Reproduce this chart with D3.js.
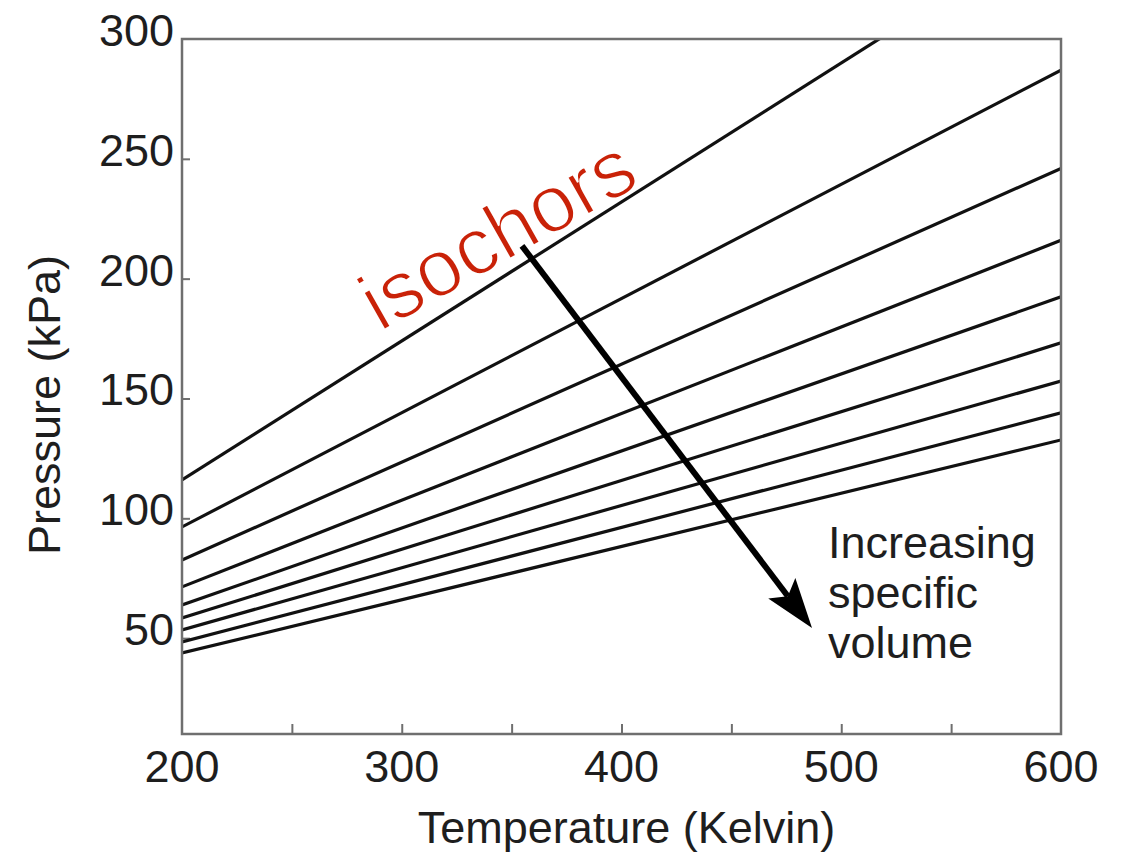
<!DOCTYPE html>
<html>
<head>
<meta charset="utf-8">
<script src="https://cdn.jsdelivr.net/npm/d3@7"></script>
<style>
  body { margin: 0; background: #fff; }
  svg text { font-family: "Liberation Sans", Arial, sans-serif; }
</style>
</head>
<body>
<svg id="chart" width="1132" height="854"></svg>
<script>
// isochor end points, pressure (kPa) at 200 K and at 600 K
var temps = [200, 600];
var p200 = [116, 96.4, 82.6, 71.4, 63.8, 58.4, 53.4, 48.4, 43.8];
var p600 = [348, 287, 246, 216, 192.4, 173.2, 157.3, 144, 132.7];

var xTicks = [200, 300, 400, 500, 600];
var xMinor = [250, 300, 350, 400, 450, 500, 550];
var yTicks = [50, 100, 150, 200, 250, 300];

// annotation anchors, in data units
var arrowFrom = [354.7, 213.7];
var arrowTo = [486.7, 54.2];
var isoLabel = [290, 177.5];
var noteLabel = [494, 83.5];
var noteLines = ['Increasing', 'specific', 'volume'];

var svg = d3.select('#chart');

var x = d3.scaleLinear().domain([200, 600]).range([182, 1061]);
var y = d3.scaleLinear().domain([10, 300]).range([734, 39]);

var frameColor = '#6f6f6f';

svg.append('defs').append('clipPath')
    .attr('id', 'plot-clip')
  .append('rect')
    .attr('x', x(200)).attr('y', y(300))
    .attr('width', x(600) - x(200))
    .attr('height', y(10) - y(300));

// inward ticks
svg.append('g')
    .attr('transform', 'translate(0,' + y(10) + ')')
    .call(d3.axisTop(x).tickValues(xMinor).tickSize(10).tickFormat(''))
    .call(function(g) {
        g.select('.domain').remove();
        g.selectAll('line').attr('stroke', frameColor).attr('stroke-width', 2);
    });

svg.append('g')
    .attr('transform', 'translate(' + x(200) + ',0)')
    .call(d3.axisRight(y).tickValues(yTicks.slice(0, 5)).tickSize(8).tickFormat(''))
    .call(function(g) {
        g.select('.domain').remove();
        g.selectAll('line').attr('stroke', frameColor).attr('stroke-width', 2);
    });

// tick labels
svg.append('g').selectAll('text')
    .data(xTicks)
  .enter().append('text')
    .attr('x', function(d) { return x(d); })
    .attr('y', y(10) + 48)
    .attr('text-anchor', 'middle')
    .attr('font-size', '45px')
    .attr('fill', '#1e1e1e')
    .text(function(d) { return d; });

svg.append('g').selectAll('text')
    .data(yTicks)
  .enter().append('text')
    .attr('x', x(200) - 8)
    .attr('y', function(d) { return y(d) + 7; })
    .attr('text-anchor', 'end')
    .attr('font-size', '45px')
    .attr('fill', '#1e1e1e')
    .text(function(d) { return d; });

// axis titles
svg.append('text')
    .attr('x', (x(200) + x(600)) / 2 + 5)
    .attr('y', 843)
    .attr('text-anchor', 'middle')
    .attr('font-size', '45px')
    .attr('fill', '#1e1e1e')
    .text('Temperature (Kelvin)');

svg.append('text')
    .attr('transform', 'translate(60,405) rotate(-90)')
    .attr('text-anchor', 'middle')
    .attr('font-size', '45px')
    .attr('fill', '#1e1e1e')
    .text('Pressure (kPa)');

// isochors
var line = d3.line()
    .x(function(d) { return x(d[0]); })
    .y(function(d) { return y(d[1]); });

svg.append('g')
    .attr('clip-path', 'url(#plot-clip)')
  .selectAll('path')
    .data(p200.map(function(p, i) { return [[temps[0], p], [temps[1], p600[i]]]; }))
  .enter().append('path')
    .attr('d', line)
    .attr('fill', 'none')
    .attr('stroke', '#111')
    .attr('stroke-width', 3.2);

// frame
svg.append('rect')
    .attr('x', x(200)).attr('y', y(300))
    .attr('width', x(600) - x(200))
    .attr('height', y(10) - y(300))
    .attr('fill', 'none')
    .attr('stroke', frameColor)
    .attr('stroke-width', 2.5);

// arrow
var ax0 = x(arrowFrom[0]), ay0 = y(arrowFrom[1]),
    ax1 = x(arrowTo[0]), ay1 = y(arrowTo[1]),
    len = Math.sqrt((ax1 - ax0) * (ax1 - ax0) + (ay1 - ay0) * (ay1 - ay0)),
    ux = (ax1 - ax0) / len, uy = (ay1 - ay0) / len,
    headLen = 50, headHalf = 17, notch = 40;

svg.append('line')
    .attr('x1', ax0).attr('y1', ay0)
    .attr('x2', ax1 - ux * notch).attr('y2', ay1 - uy * notch)
    .attr('stroke', '#000')
    .attr('stroke-width', 6);

svg.append('path')
    .attr('d', 'M' + ax1 + ',' + ay1 +
        'L' + (ax1 - ux * headLen - uy * headHalf) + ',' + (ay1 - uy * headLen + ux * headHalf) +
        'L' + (ax1 - ux * notch) + ',' + (ay1 - uy * notch) +
        'L' + (ax1 - ux * headLen + uy * headHalf) + ',' + (ay1 - uy * headLen - ux * headHalf) + 'Z')
    .attr('fill', '#000');

// labels - light look: erode the glyphs with a thin white outline
svg.append('text')
    .attr('transform', 'translate(' + x(isoLabel[0]) + ',' + y(isoLabel[1]) + ') rotate(-29.5)')
    .attr('font-size', '81px')
    .attr('fill', '#c92208')
    .attr('stroke', '#fff')
    .attr('stroke-width', 2)
    .text('isochors');

svg.append('text')
    .attr('x', x(noteLabel[0]))
    .attr('y', y(noteLabel[1]))
    .attr('font-size', '45px')
    .attr('fill', '#1e1e1e')
  .selectAll('tspan')
    .data(noteLines)
  .enter().append('tspan')
    .attr('x', x(noteLabel[0]))
    .attr('dy', function(d, i) { return i ? 50 : 0; })
    .text(function(d) { return d; });
</script>
</body>
</html>
